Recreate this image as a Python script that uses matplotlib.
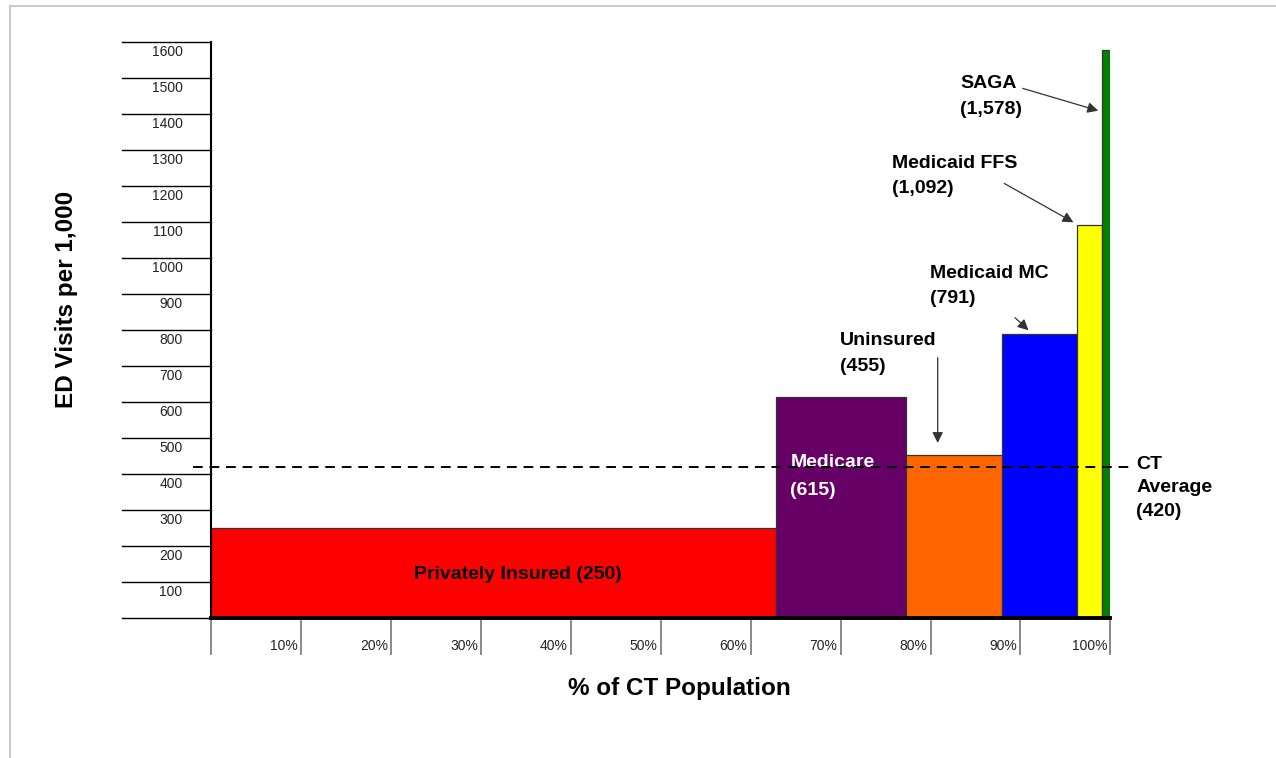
import matplotlib.pyplot as plt
from matplotlib.lines import Line2D

plt.rcParams['font.family'] = ['Liberation Sans', 'DejaVu Sans']

# Data: share of CT population (%) and ED visits per 1,000
groups = ['Privately Insured', 'Medicare', 'Uninsured', 'Medicaid MC', 'Medicaid FFS', 'SAGA']
shares = [62.8, 14.5, 10.7, 8.3, 2.8, 0.9]
visits = [250, 615, 455, 791, 1092, 1578]
colors = ['#ff0000', '#660066', '#ff6600', '#0000ff', '#ffff00', '#008000']
ct_average = 420

y_ticks = list(range(0, 1700, 100))
x_ticks = list(range(0, 110, 10))

W, H = 1276, 758
fig = plt.figure(figsize=(W / 100, H / 100), dpi=100)
left, right = 211.3 / W, 1110.3 / W
bottom, top = (H - 618.3) / H, (H - 42.3) / H
ax = fig.add_axes([left, bottom, right - left, top - bottom])
ax.set_xlim(0, 100)
ax.set_ylim(0, 1600)

# variable width bars
starts = []
pos = 0
for s in shares:
    starts.append(pos)
    pos += s
ax.bar(starts, visits, width=shares, align='edge', color=colors,
       edgecolor='#333333', linewidth=0.9, zorder=2)

# CT average dashed line
ax.plot([-2.0, 102.5], [ct_average, ct_average], color='black', lw=1.4,
        ls=(0, (5, 3.5)), clip_on=False, zorder=4)

# axes styling
for side in ['top', 'right', 'bottom', 'left']:
    ax.spines[side].set_visible(False)
ax.set_xticks([])
ax.set_yticks([])
ax.plot([0, 0], [0, 1600], color='black', lw=1.5, clip_on=False, zorder=3)
ax.plot([0, 100], [0, 0], color='black', lw=2.8, clip_on=False, zorder=5)

# y "table" lines and labels
for v in y_ticks:
    ax.plot([-9.9, 0], [v, v], color='black', lw=1.0, clip_on=False)
    if v > 0:
        ax.text(-3.2, v - 28, str(v), ha='right', va='center', fontsize=10,
                color='#222222')

# x ticks and labels
for v in x_ticks:
    ax.plot([v, v], [0, -100], color='#808080', lw=1.3, clip_on=False, zorder=1)
    if v > 0:
        ax.text(v - 0.35, -76, f'{v}%', ha='right', va='center', fontsize=10,
                color='#222222')

# axis titles
fig.text(67 / W, 1 - 299 / H, 'ED Visits per 1,000', rotation=90, ha='center',
         va='center', fontsize=17.5, fontweight='bold')
fig.text(679 / W, 1 - 689 / H, '% of CT Population', ha='center', va='center',
         fontsize=17.5, fontweight='bold')

# labels
lab = dict(fontsize=14, fontweight='bold', linespacing=1.65)
ax.text(34.1, 123, 'Privately Insured (250)', ha='center', va='center', **lab)
ax.text(64.4, 394, 'Medicare\n(615)', ha='left', va='center', color='white',
        fontsize=14, fontweight='bold', linespacing=1.85)
ax.text(102.9, 363, 'CT\nAverage\n(420)', ha='left', va='center',
        fontsize=14, fontweight='bold', linespacing=1.5)

arrow = dict(arrowstyle='-|>', color='#333333', lw=0.9, mutation_scale=16,
             shrinkA=0, shrinkB=0)
ax.text(69.9, 735, 'Uninsured\n(455)', ha='left', va='center', **lab)
ax.annotate('', xy=(80.8, 487), xytext=(80.8, 724), arrowprops=arrow)
ax.text(79.9, 923, 'Medicaid MC\n(791)', ha='left', va='center', **lab)
ax.annotate('', xy=(90.9, 800), xytext=(89.4, 835), arrowprops=arrow)
ax.text(75.7, 1229, 'Medicaid FFS\n(1,092)', ha='left', va='center', **lab)
ax.annotate('', xy=(95.9, 1100), xytext=(88.2, 1208), arrowprops=arrow)
ax.text(83.3, 1449, 'SAGA\n(1,578)', ha='left', va='center', **lab)
ax.annotate('', xy=(98.66, 1410), xytext=(90.26, 1472), arrowprops=arrow)

# light frame
fig.add_artist(Line2D([10 / W, 1], [1 - 6 / H, 1 - 6 / H], color='#c0c0c0', lw=1.2))
fig.add_artist(Line2D([10 / W, 10 / W], [0, 1 - 6 / H], color='#c0c0c0', lw=1.2))

fig.savefig('out.png', dpi=100)
